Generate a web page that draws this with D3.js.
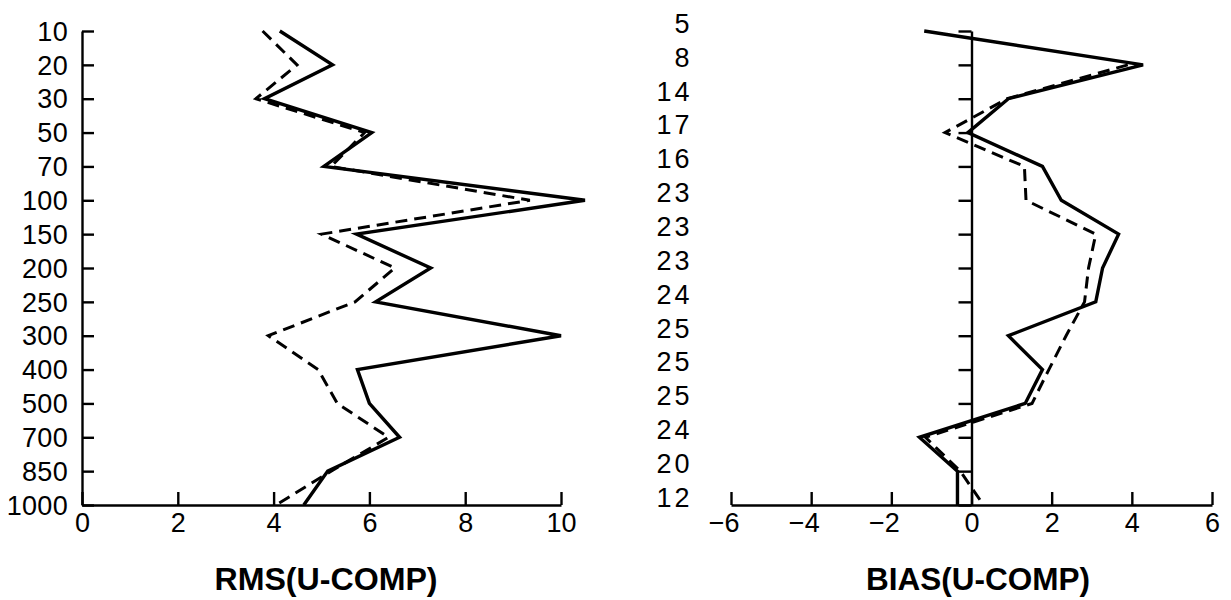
<!DOCTYPE html>
<html>
<head>
<meta charset="utf-8">
<script src="https://cdn.jsdelivr.net/npm/d3@7"></script>
<style>
  html, body { margin: 0; padding: 0; background: #fff; }
  svg { display: block; }
  .tick text { font-family: "Liberation Sans", Arial, Helvetica, sans-serif; fill: #000; }
</style>
</head>
<body>
<svg id="chart" width="1231" height="600"></svg>
<script>
// ---- data ----
const levels = ["10","20","30","50","70","100","150","200","250","300","400","500","700","850","1000"];
const rmsSolid  = [4.13, 5.23, 3.81, 6.05, 5.05, 10.5, 5.73, 7.28, 6.13, 10.0, 5.75, 6.0, 6.63, 5.13, 4.63];
const rmsDashed = [3.77, 4.49, 3.63, 5.9, 5.2, 9.35, 5.0, 6.53, 5.7, 3.89, 4.93, 5.33, 6.4, 5.2, 4.05];
const biasCounts = ["5","8","14","17","16","23","23","23","24","25","25","25","24","20","12"];
const biasSolid  = [-1.18, 4.28, 0.92, -0.09, 1.77, 2.24, 3.67, 3.27, 3.10, 0.92, 1.77, 1.34, -1.30, -0.35, -0.35];
const biasDashed = [null, 3.9, 0.89, -0.66, 1.32, 1.36, 3.10, 2.92, 2.82, 2.36, 1.93, 1.51, -1.15, -0.28, 0.30];
const rmsTicks = [0, 2, 4, 6, 8, 10];
const biasTicks = [-6, -4, -2, 0, 2, 4, 6];
const titles = ["RMS(U-COMP)", "BIAS(U-COMP)"];

// ---- layout ----
const svg = d3.select("#chart");
svg.append("rect").attr("width", 1231).attr("height", 600).attr("fill", "#fff");

const idx = d3.range(levels.length);
const y = d3.scalePoint().domain(idx).range([31, 505]);

const xL = d3.scaleLinear().domain([0, 10]).range([82, 561]);
const xR = d3.scaleLinear().domain([-6, 6]).range([731, 1212]);

function styleAxis(g) {
  g.select(".domain").attr("stroke", "#000").attr("stroke-width", 2.4);
  g.selectAll(".tick line").attr("stroke", "#000").attr("stroke-width", 2.4);
}

// Left panel axes
const gLy = svg.append("g").attr("transform", `translate(${xL(0)},0)`)
  .call(d3.axisLeft(y).tickSizeInner(-12).tickSizeOuter(0).tickPadding(14)
        .tickFormat(i => levels[i]));
gLy.selectAll(".tick text").attr("font-size", 27).attr("letter-spacing", 0.3).attr("dy", "0.34em");
styleAxis(gLy);

const gLx = svg.append("g").attr("transform", `translate(0,${y(idx[idx.length-1])})`)
  .call(d3.axisBottom(xL).tickValues(rmsTicks).tickSizeInner(-13).tickSizeOuter(0).tickPadding(8)
        .tickFormat(d3.format("d")));
gLx.selectAll(".tick text").attr("font-size", 27);
styleAxis(gLx);

// Right panel axes
const gRy = svg.append("g").attr("transform", `translate(${xR(0)},0)`)
  .call(d3.axisLeft(y).tickSizeInner(13).tickSizeOuter(0).tickPadding(266)
        .tickFormat(i => biasCounts[i]));
gRy.selectAll(".tick text").attr("font-size", 27).attr("letter-spacing", 3).attr("dy", "0.05em");
styleAxis(gRy);

const gRx = svg.append("g").attr("transform", `translate(0,${y(idx[idx.length-1])})`)
  .call(d3.axisBottom(xR).tickValues(biasTicks).tickSizeInner(-13).tickSizeOuter(0).tickPadding(8)
        .tickFormat(d => (d < 0 ? "\u2212" : "") + Math.abs(d)));
gRx.selectAll(".tick text").attr("font-size", 27)
  .attr("text-anchor", d => d < 0 ? "end" : "middle")
  .attr("dx", d => d < 0 ? 8 : 0);
styleAxis(gRx);

// Lines
function drawLine(xs, vals, dashed) {
  const line = d3.line()
    .defined(i => vals[i] != null)
    .x(i => xs(vals[i]))
    .y(i => y(i));
  svg.append("path")
    .attr("d", line(idx))
    .attr("fill", "none")
    .attr("stroke", "#000")
    .attr("stroke-width", dashed ? 3 : 3.4)
    .attr("stroke-linejoin", "miter")
    .attr("stroke-dasharray", dashed ? "12,7" : null);
}
drawLine(xL, rmsDashed, true);
drawLine(xL, rmsSolid, false);
drawLine(xR, biasDashed, true);
drawLine(xR, biasSolid, false);

// Titles
const titleX = [326, 978];
titles.forEach((t, k) => {
  svg.append("text")
    .attr("x", titleX[k]).attr("y", 590)
    .attr("text-anchor", "middle")
    .attr("font-family", "'Liberation Sans Narrow', 'Liberation Sans', Arial, sans-serif")
    .attr("font-weight", "bold")
    .attr("font-size", 32)
    .attr("textLength", k === 0 ? 223 : 224)
    .attr("lengthAdjust", "spacingAndGlyphs")
    .text(t);
});
</script>
</body>
</html>
